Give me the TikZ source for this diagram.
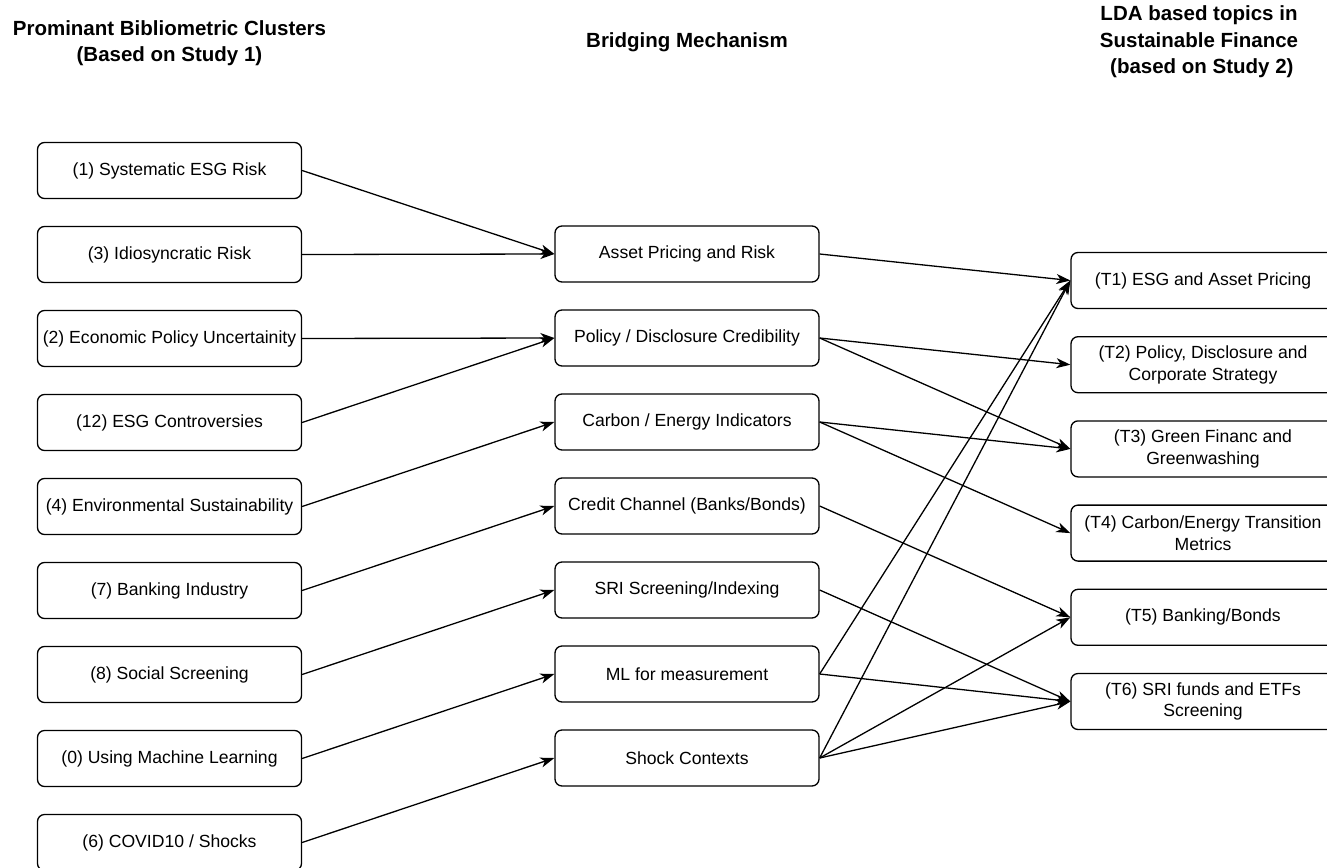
\documentclass[tikz,border=0pt]{standalone}
\usepackage{fontspec}
\setmainfont{Liberation Sans}
\usetikzlibrary{arrows.meta}

\tikzset{
  box/.style={draw, rounded corners=7pt, line width=1.3pt, minimum width=264pt,
    minimum height=56pt, align=center, inner sep=2pt,
    font=\fontsize{17.6}{21.5}\selectfont},
  head/.style={align=center, font=\bfseries\fontsize{20.5}{26.5}\selectfont},
  link/.style={-{Stealth[length=14pt,width=10pt,inset=4pt]}, line width=1.3pt},
}

\begin{document}
\begin{tikzpicture}[x=1pt,y=-1pt]
  \useasboundingbox (0,0) rectangle (1327,867);

  % parameters
  \def\lx{169.5}   % left column centre
  \def\mx{687}     % middle column centre
  \def\rx{1203}    % right column centre
  \def\dy{84}      % row gap

  % headers
  \node[head] (hl) at (\lx,43) {Prominant Bibliometric Clusters\\(Based on Study 1)};
  \node[head] (hm) at (\mx,42) {Bridging Mechanism};
  \node[head] (hr) at (1199,42) {LDA based topics in\\Sustainable Finance\\\hspace*{0.28em}(based on Study 2)};

  % bibliometric clusters (left)
  \node[box] (c1)  at (\lx,170.5)       {(1) Systematic ESG Risk};
  \node[box] (c3)  at (\lx,170.5+\dy)   {(3) Idiosyncratic Risk};
  \node[box] (c2)  at (\lx,170.5+2*\dy) {(2) Economic Policy Uncertainity};
  \node[box] (c12) at (\lx,170.5+3*\dy) {(12) ESG Controversies};
  \node[box] (c4)  at (\lx,170.5+4*\dy) {(4) Environmental Sustainability};
  \node[box] (c7)  at (\lx,170.5+5*\dy) {(7) Banking Industry};
  \node[box] (c8)  at (\lx,170.5+6*\dy) {(8) Social Screening};
  \node[box] (c0)  at (\lx,170.5+7*\dy) {(0) Using Machine Learning};
  \node[box] (c6)  at (\lx,170.5+8*\dy) {(6) COVID10 / Shocks};

  % bridging mechanism (middle)
  \node[box] (asset)  at (\mx,254)       {Asset Pricing and Risk};
  \node[box] (policy) at (\mx,254+\dy)   {Policy / Disclosure Credibility};
  \node[box] (carbon) at (\mx,254+2*\dy) {Carbon / Energy Indicators};
  \node[box] (credit) at (\mx,254+3*\dy) {Credit Channel (Banks/Bonds)};
  \node[box] (sri)    at (\mx,254+4*\dy) {SRI Screening/Indexing};
  \node[box] (ml)     at (\mx,254+5*\dy) {ML for measurement};
  \node[box] (shock)  at (\mx,254+6*\dy) {Shock Contexts};

  % LDA topics (right), cut by the page edge
  \node[box] (t1) at (\rx,280.5)        {(T1) ESG and Asset Pricing};
  \node[box] (t2) at (\rx,280.5+84.2)   {(T2) Policy, Disclosure and\\Corporate Strategy};
  \node[box] (t3) at (\rx,280.5+2*84.2) {(T3) Green Financ and\\Greenwashing};
  \node[box] (t4) at (\rx,280.5+3*84.2) {(T4) Carbon/Energy Transition\\Metrics};
  \node[box] (t5) at (\rx,280.5+4*84.2) {(T5) Banking/Bonds};
  \node[box] (t6) at (\rx,280.5+5*84.2) {(T6) SRI funds and ETFs\\Screening};

  % clusters -> mechanisms
  \draw[link] (c1.east)  -- (asset.west);
  \draw[link] (c3.east)  -- (asset.west);
  \draw[link] (c2.east)  -- (policy.west);
  \draw[link] (c12.east) -- (policy.west);
  \draw[link] (c4.east)  -- (carbon.west);
  \draw[link] (c7.east)  -- (credit.west);
  \draw[link] (c8.east)  -- (sri.west);
  \draw[link] (c0.east)  -- (ml.west);
  \draw[link] (c6.east)  -- (shock.west);

  % mechanisms -> topics
  \draw[link] (asset.east)  -- (t1.west);
  \draw[link] (policy.east) -- (t2.west);
  \draw[link] (policy.east) -- (t3.west);
  \draw[link] (carbon.east) -- (t3.west);
  \draw[link] (carbon.east) -- (t4.west);
  \draw[link] (credit.east) -- (t5.west);
  \draw[link] (sri.east)    -- (t6.west);
  \draw[link] (ml.east)     -- (t1.west);
  \draw[link] (ml.east)     -- (t6.west);
  \draw[link] (shock.east)  -- (t1.west);
  \draw[link] (shock.east)  -- (t5.west);
  \draw[link] (shock.east)  -- (t6.west);
\end{tikzpicture}
\end{document}
